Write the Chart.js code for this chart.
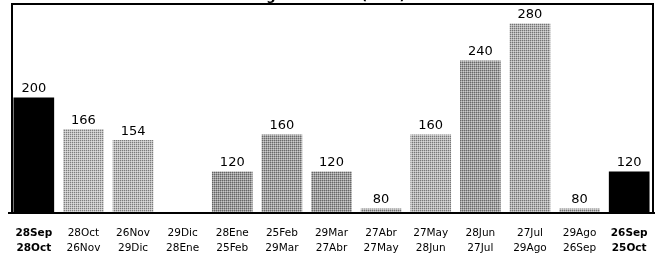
<!DOCTYPE html>
<html>
<head>
<meta charset="utf-8">
<script src="https://cdn.jsdelivr.net/npm/chart.js@4.4.0/dist/chart.umd.min.js"></script>
<style>
  html, body { margin: 0; padding: 0; background: #fff; }
  #wrap { width: 659px; height: 261px; position: relative; }
</style>
</head>
<body>
<div id="wrap"><canvas id="mycanvas"></canvas></div>
<script>
// periodos de facturacion (desde / hasta)
var desde = ['28Sep', '28Oct', '26Nov', '29Dic', '28Ene', '25Feb', '29Mar', '27Abr', '27May', '28Jun', '27Jul', '29Ago', '26Sep'];
var hasta = ['28Oct', '26Nov', '29Dic', '28Ene', '25Feb', '29Mar', '27Abr', '27May', '28Jun', '27Jul', '29Ago', '26Sep', '25Oct'];
var consumo = [200, 166, 154, null, 120, 160, 120, 80, 160, 240, 280, 80, 120];
var tonos = ['#000000', '#c2c2c2', '#bebebe', '#ffffff', '#9c9c9c', '#a2a2a2', '#9e9e9e', '#b0b0b0', '#b8b8b8', '#a0a0a0', '#b2b2b2', '#b2b2b2', '#000000'];
var titulo = 'Consumo de Energía Eléctrica (kWh)';

var labels = [];
for (var i in desde) {
	labels.push([desde[i], hasta[i]]);
}

// textura punteada tipo escaneo
function trama(color) {
	if (color == '#000000') return color;
	var c = document.createElement('canvas');
	c.width = 2; c.height = 2;
	var g = c.getContext('2d');
	g.fillStyle = color;
	g.fillRect(0, 0, 2, 2);
	g.fillStyle = 'rgba(0,0,0,0.35)';
	g.fillRect(0, 0, 1, 1);
	g.fillStyle = 'rgba(255,255,255,0.45)';
	g.fillRect(1, 1, 1, 1);
	return g.createPattern(c, 'repeat');
}
var fondos = tonos.map(trama);

var marco = {
	id: 'marco',
	afterDraw: function(chart) {
		var ctx = chart.ctx, a = chart.chartArea;
		ctx.save();
		ctx.fillStyle = '#000';
		ctx.font = 'bold 13px "DejaVu Sans"';
		ctx.textAlign = 'center';
		ctx.textBaseline = 'alphabetic';
		ctx.fillText(titulo, 272, 0);
		ctx.strokeStyle = '#000';
		ctx.lineWidth = 2;
		ctx.strokeRect(12, 4, 641, a.bottom - 4);
		ctx.restore();
	}
};

var etiquetas = {
	id: 'etiquetas',
	afterDatasetsDraw: function(chart) {
		var ctx = chart.ctx;
		var meta = chart.getDatasetMeta(0);
		ctx.save();
		ctx.fillStyle = '#000';
		ctx.font = '13px "DejaVu Sans"';
		ctx.textAlign = 'center';
		ctx.textBaseline = 'bottom';
		meta.data.forEach(function(bar, i) {
			if (consumo[i] == null) return;
			ctx.fillText(String(consumo[i]), bar.x, bar.y - 2);
		});
		ctx.restore();
	}
};

var ctx = document.getElementById('mycanvas');
var grafica = new Chart(ctx, {
	type: 'bar',
	data: {
		labels: labels,
		datasets: [{
			data: consumo,
			backgroundColor: fondos,
			borderWidth: 0,
			barPercentage: 0.82,
			categoryPercentage: 1.0
		}]
	},
	options: {
		responsive: true,
		maintainAspectRatio: false,
		animation: false,
		layout: { padding: { top: 5, left: 9, right: 5, bottom: 0 } },
		plugins: {
			legend: { display: false },
			tooltip: { enabled: false }
		},
		scales: {
			x: {
				afterFit: function(s) { s.height = 48; },
				grid: { display: false },
				border: { display: true, color: '#000', width: 2 },
				ticks: {
					color: '#000',
					padding: 5,
					maxRotation: 0,
					autoSkip: false,
					font: function(c) {
						var b = (c.index === 0 || c.index === desde.length - 1);
						return { family: '"DejaVu Sans"', size: 10.5, weight: b ? 'bold' : 'normal', lineHeight: 1.4 };
					}
				}
			},
			y: {
				display: false,
				min: 75,
				max: 300
			}
		}
	},
	plugins: [etiquetas, marco]
});
</script>
</body>
</html>
